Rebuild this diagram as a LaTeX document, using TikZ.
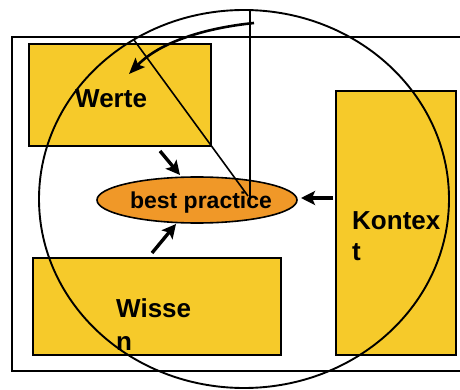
\documentclass[tikz,border=0pt]{standalone}
\usepackage{fontspec}
\setmainfont{Liberation Sans}
\usetikzlibrary{arrows.meta,shapes.geometric}
\definecolor{boxyellow}{RGB}{246,202,42}
\definecolor{bporange}{RGB}{240,152,40}
\begin{document}
\begin{tikzpicture}[x=1pt,y=-1pt,
  box/.style={draw=black,line width=2.8pt,fill=boxyellow,inner sep=0pt,outer sep=0pt},
  lbl/.style={anchor=base west,inner sep=0pt,font=\fontsize{26}{31}\selectfont\bfseries},
  thin/.style={draw=black,line width=1.6pt},
  fat/.style={line width=3.4pt,-{Stealth[length=14pt,width=14pt,inset=3pt]}},
  curvearrow/.style={line width=2.6pt,-{Stealth[length=16pt,width=13pt,inset=3pt]}}]
\useasboundingbox (0,0) rectangle (460,390);
% outer frame
\draw[line width=2.6pt] (470,37) -- (12,37) -- (12,371) -- (470,371);
% boxes
\node[box,minimum width=182pt,minimum height=102pt] (werte) at (120,95) {};
\node[box,minimum width=120pt,minimum height=264pt] (kontext) at (396,223) {};
\node[box,minimum width=248pt,minimum height=97pt] (wissen) at (157,306.5) {};
% best practice ellipse
\node[ellipse,draw=black,line width=1.6pt,fill=bporange,minimum width=200pt,minimum height=46pt,inner sep=0pt] (bp) at (197,200) {};
% big circle
\draw[line width=1.9pt] (244,199) ellipse [x radius=205, y radius=189];
% labels
\node[lbl] (tw) at (75,108) {Werte};
\node[lbl] (tk) at (352,229) {Kontex};
\node[lbl] (tk2) at (352,260) {t};
\node[lbl] (tn) at (116,317) {Wisse};
\node[lbl] (tn2) at (116,350) {n};
\node[anchor=base,inner sep=0pt,font=\fontsize{23}{28}\selectfont\bfseries] (tbp) at (201,208) {best practice};
% lines
\coordinate (vtop) at (250,10);
\coordinate (vbot) at (250,197);
\coordinate (dtop) at (134,40);
\coordinate (dbot) at (248,196);
\draw[thin] (vtop) -- (vbot);
\draw[thin] (dtop) -- (dbot);
% curved arrow
\coordinate (cstart) at (254,23);
\coordinate (cend) at (129,74);
\draw[curvearrow] (cstart) .. controls (205,28) and (160,42) .. (cend);
% small arrows
\coordinate (a1s) at (160,151);
\coordinate (a1e) at (180,175);
\coordinate (a2s) at (152,253);
\coordinate (a2e) at (176,224);
\coordinate (a3s) at (333,198);
\coordinate (a3e) at (301,198);
\draw[fat] (a1s) -- (a1e);
\draw[fat] (a2s) -- (a2e);
\draw[fat] (a3s) -- (a3e);
\end{tikzpicture}
\end{document}
